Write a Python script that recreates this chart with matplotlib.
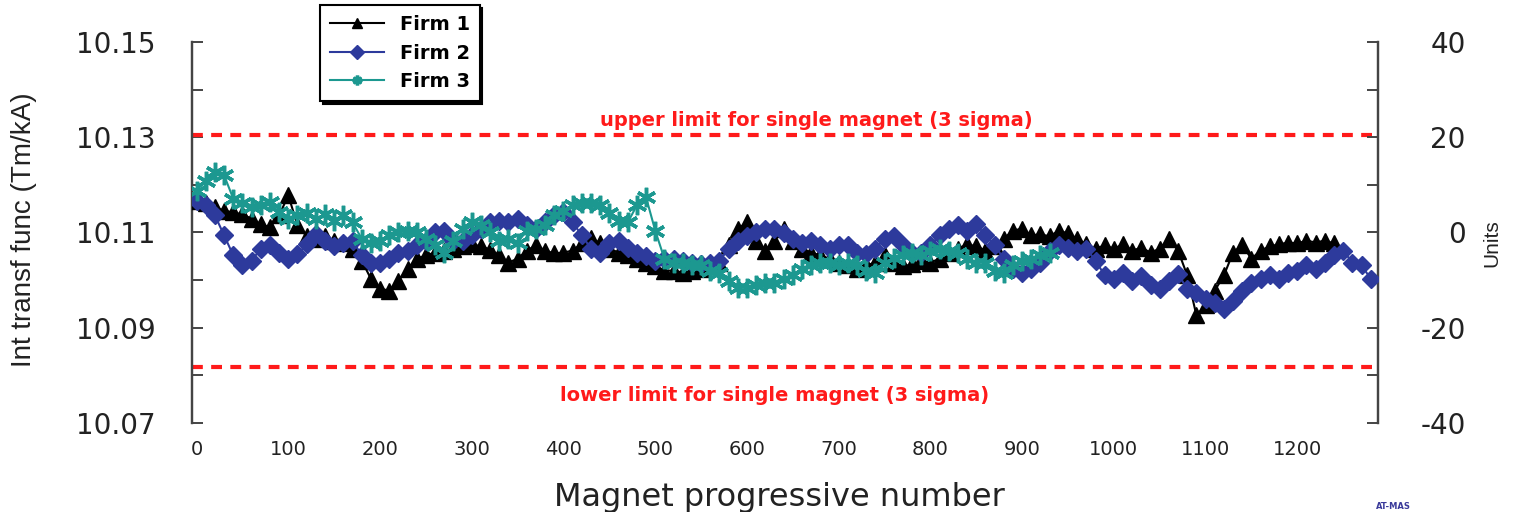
import numpy as np
import matplotlib
matplotlib.use('Agg')
import matplotlib.pyplot as plt
from matplotlib.ticker import MultipleLocator

plt.rcParams['font.family'] = ['DejaVu Sans']
plt.rcParams['axes.unicode_minus'] = False

# magnet numbers (every 10th magnet)
magnets_firm1 = np.arange(0, 1241, 10)
magnets_firm2 = np.arange(0, 1281, 10)
magnets_firm3 = np.arange(0, 931, 10)

# deviations in units (1 unit = 0.001 Tm/kA around 10.11)
firm1_units = [
    6.7, 6.1, 5.3, 4.6, 4.2, 3.8, 2.9, 1.7, 1.1, 3.6,
    7.8, 1.5, -0.8, -1.3, -0.8, -1.7, -2.3, -3.4, -5.9, -9.7,
    -11.8, -12.2, -10.1, -7.6, -5.5, -4.8, -4.2, -3.8, -3.4, -2.9,
    -2.5, -2.9, -3.6, -4.8, -6.3, -5.5, -3.8, -2.7, -3.8, -4.4,
    -4.2, -3.8, -2.3, -1.1, -2.3, -3.4, -4.2, -4.8, -5.5, -6.3,
    -7.1, -8.0, -8.0, -8.4, -8.0, -7.6, -6.9, -6.3, -2.7, 0.8,
    2.1, -1.7, -3.8, -1.7, 0.8, -1.7, -3.4, -4.2, -4.8, -5.5,
    -6.3, -6.9, -7.6, -6.9, -6.3, -4.8, -6.3, -7.1, -6.7, -5.9,
    -6.3, -5.5, -4.2, -3.4, -2.5, -2.9, -3.8, -2.9, -1.3, 0.4,
    0.8, -0.6, -0.4, -0.8, 0.4, -0.2, -1.3, -2.5, -3.4, -2.7,
    -3.4, -2.5, -3.8, -3.2, -4.2, -3.4, -1.3, -3.8, -9.0, -17.4,
    -15.3, -12.2, -9.0, -4.2, -2.7, -5.5, -3.8, -2.9, -2.5, -2.1,
    -2.3, -1.7, -2.1, -1.7, -2.3,
]
firm2_units = [
    6.7, 5.7, 3.6, -0.6, -4.8, -6.9, -5.9, -3.4, -2.7, -4.2,
    -5.5, -4.6, -2.5, -0.4, -1.7, -2.9, -2.3, -1.7, -4.8, -6.3,
    -6.5, -5.5, -4.2, -3.8, -2.7, -1.7, 0.0, 0.4, -1.7, -1.7,
    -0.6, 0.8, 2.1, 2.5, 2.1, 2.9, 1.5, 0.8, 2.1, 3.6,
    4.2, 2.1, -0.6, -3.4, -4.2, -2.3, -1.7, -3.2, -4.2, -5.0,
    -5.9, -5.5, -5.5, -5.9, -6.3, -6.7, -6.3, -5.9, -3.4, -1.7,
    -0.8, 0.0, 0.8, 0.8, -0.2, -1.3, -2.1, -1.7, -2.7, -3.4,
    -2.7, -2.7, -4.2, -4.6, -3.4, -1.3, -0.8, -2.7, -4.2, -4.2,
    -2.7, -0.6, 0.8, 1.5, 0.4, 1.7, -0.6, -2.7, -5.5, -7.6,
    -8.4, -7.6, -6.3, -3.8, -2.7, -3.2, -3.8, -3.4, -5.9, -9.0,
    -9.7, -8.6, -10.1, -9.2, -11.1, -11.8, -10.1, -8.8, -11.8, -12.8,
    -13.9, -14.9, -16.0, -14.3, -12.2, -10.5, -9.7, -9.0, -9.7, -8.4,
    -8.0, -6.9, -7.6, -6.3, -4.8, -3.8, -6.3, -6.9, -9.7,
]
firm3_units = [
    8.8, 10.9, 12.6, 12.0, 7.1, 6.1, 5.3, 5.7, 6.3, 4.2,
    2.9, 3.6, 4.0, 2.9, 3.8, 2.5, 3.6, 2.1, -1.3, -2.3,
    -1.7, -0.6, 0.0, 0.4, 0.0, -1.3, -2.7, -4.2, -1.7, 0.8,
    2.1, 1.5, 0.0, -1.7, -1.3, -2.1, 0.4, 0.8, 1.5, 3.6,
    4.6, 5.7, 6.1, 6.1, 5.7, 4.0, 2.5, 2.1, 5.7, 7.4,
    0.4, -5.5, -6.3, -6.3, -6.9, -6.9, -8.0, -8.4, -10.1, -11.6,
    -11.6, -11.1, -10.7, -10.5, -9.7, -9.0, -7.6, -6.9, -6.3, -6.5,
    -6.9, -6.3, -6.9, -8.0, -8.4, -6.3, -5.3, -4.8, -4.4, -4.8,
    -3.8, -3.4, -3.8, -4.2, -5.5, -6.3, -6.3, -8.0, -8.4, -6.9,
    -5.9, -5.5, -4.8, -4.2,
]

firm_labels = ['Firm 1', 'Firm 2', 'Firm 3']
upper_limit = 10.1305
lower_limit = 10.0818
xtick_values = list(range(0, 1201, 100))
left_ticks = [10.07, 10.09, 10.11, 10.13, 10.15]
right_ticks = [-40, -20, 0, 20, 40]

fig = plt.figure(figsize=(15.19, 5.12), dpi=100)
ax = fig.add_axes([0.1264, 0.1738, 0.7808, 0.7442])
ax2 = ax.twinx()

spine_col = '#444444'
text_col = '#222222'
for a in (ax, ax2):
    a.spines['top'].set_visible(False)
    a.spines['bottom'].set_visible(False)
    a.spines['left'].set_color(spine_col)
    a.spines['right'].set_color(spine_col)
    a.spines['left'].set_linewidth(1.6)
    a.spines['right'].set_linewidth(1.6)

ax.set_xlim(-5, 1288)
ax.set_ylim(10.07, 10.15)
ax2.set_ylim(-40, 40)

# limits
red = '#ff1a1a'
ax.axhline(upper_limit, color=red, lw=3, ls=(0, (2.6, 2.0)))
ax.axhline(lower_limit, color=red, lw=3, ls=(0, (2.6, 2.0)))
ax.text(0.526, 0.795, 'upper limit for single magnet (3 sigma)', transform=ax.transAxes,
        color=red, fontsize=14, fontweight='bold', ha='center', va='center')
ax.text(0.491, 0.073, 'lower limit for single magnet (3 sigma)', transform=ax.transAxes,
        color=red, fontsize=14, fontweight='bold', ha='center', va='center')

ax2.plot(magnets_firm1, firm1_units, color='black', lw=1.5, marker='^', ms=12,
         mec='black', mfc='black', label=firm_labels[0], zorder=3)
ax2.plot(magnets_firm2, firm2_units, color='#2d3a9c', lw=1.5, marker='D', ms=9.5,
         mec='#2d3a9c', mfc='#2d3a9c', label=firm_labels[1], zorder=4)
ax2.plot(magnets_firm3, firm3_units, color='#1c9890', lw=1.5, marker=(6, 2, 0), ms=14,
         mew=2.5, mec='#1c9890', label=firm_labels[2], zorder=5)

# ticks
ax.set_xticks(xtick_values)
ax.tick_params(axis='x', length=0, pad=12, labelsize=14, labelcolor=text_col)
ax.set_yticks(left_ticks)
ax.yaxis.set_minor_locator(MultipleLocator(0.01))
ax.set_yticklabels([f'{v:.2f}' for v in left_ticks])
ax.tick_params(axis='y', which='both', direction='in', length=8, width=1.4,
               color=spine_col, pad=26, labelsize=20, labelcolor=text_col)

ax2.set_yticks(right_ticks)
ax2.yaxis.set_minor_locator(MultipleLocator(10))
ax2.tick_params(axis='y', which='both', direction='in', length=8, width=1.4,
                color=spine_col, pad=63, labelsize=20, labelcolor=text_col)
for lbl in ax2.get_yticklabels():
    lbl.set_horizontalalignment('right')

ax.set_ylabel('Int transf func (Tm/kA)', fontsize=20, color=text_col,
              family=['Liberation Sans', 'DejaVu Sans'])
ax.yaxis.set_label_coords(-0.131, 0.507)
ax2.set_ylabel('Units', fontsize=15, color=text_col, rotation=90,
               family=['Liberation Sans', 'DejaVu Sans'])
ax2.yaxis.set_label_coords(1.088, 0.472)

fig.text(0.513, 0.012, 'Magnet progressive number', fontsize=23, color=text_col,
         ha='center', va='baseline')
fig.text(0.917, 0.002, 'AT-MAS', fontsize=6, color='#3a3a9a', fontweight='bold',
         ha='center', va='bottom')

leg = ax2.legend(loc='upper left', bbox_to_anchor=(0.2107, 0.99),
                 bbox_transform=fig.transFigure, frameon=True, fancybox=False,
                 shadow={'color': 'black', 'alpha': 1.0},
                 prop={'size': 14, 'weight': 'bold'}, handlelength=2.8,
                 handletextpad=0.8, labelspacing=0.5, borderpad=0.5,
                 borderaxespad=0)
leg.get_frame().set_edgecolor('black')
leg.get_frame().set_linewidth(1.5)
for line in leg.get_lines():
    line.set_markersize(7)

fig.savefig('out.png', dpi=100)
